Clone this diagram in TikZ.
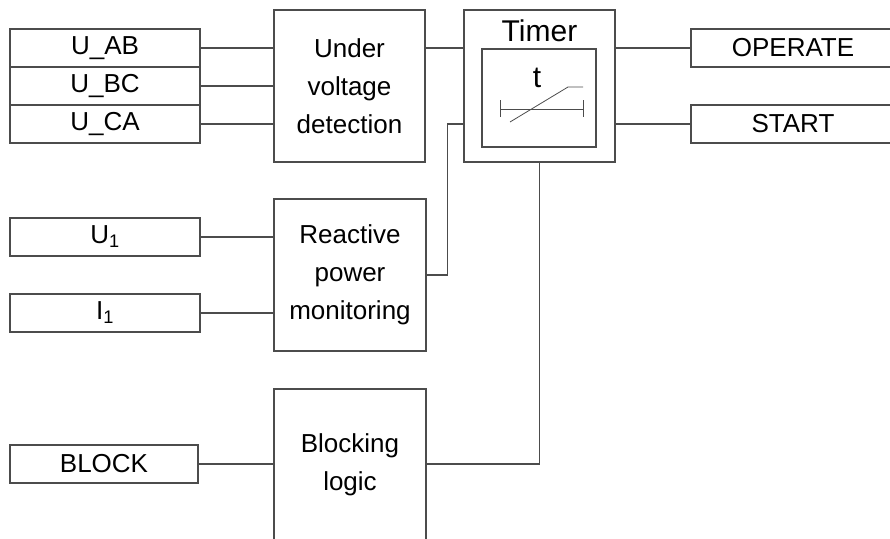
\documentclass[tikz,border=0pt]{standalone}
\usepackage{fontspec}
\setmainfont{Liberation Sans}
\usetikzlibrary{positioning,calc}

\begin{document}
\begin{tikzpicture}[x=1pt,y=-1pt,
    line width=1.1pt,draw=black!70,
    every node/.style={font=\fontsize{26}{38}\selectfont},
    sig/.style={draw,minimum width=190,minimum height=38,inner sep=0pt},
    outsig/.style={draw,minimum width=204,minimum height=38,inner sep=0pt},
    fblock/.style={draw,minimum width=152,minimum height=152,inner sep=0pt,align=center}]
  \useasboundingbox (0,0) rectangle (890,538);
  \clip (0,0) rectangle (890,538);
  % inputs
  \node[sig] (uab) at (105,48) {U\_AB};
  \node[sig] (ubc) at (105,86) {U\_BC};
  \node[sig] (uca) at (105,124) {U\_CA};
  \node[sig] (u1) at (105,237) {U\textsubscript{1}};
  \node[sig] (i1) at (105,313) {I\textsubscript{1}};
  \node[sig,minimum width=188] (block) at (104,464) {BLOCK};
  % function blocks
  \node[fblock,minimum width=151] (uvd) at (349.5,86) {Under\\voltage\\detection};
  \node[fblock] (rpm) at (350,275) {Reactive\\power\\monitoring};
  \node[fblock] (blog) at (350,465) {Blocking\\logic};
  \node[fblock,minimum width=151] (timer) at (539.5,86) {};
  \node[draw,minimum width=114,minimum height=98,inner sep=0pt] (tinner) at (539,98) {};
  \node[font=\fontsize{30}{34}\selectfont,below=6pt of timer.north] (tname) {Timer};
  \node[font=\fontsize{30}{34}\selectfont] (tlab) at (537,78) {t};
  \draw[line width=0.8pt] (500,109) -- (583,109);
  \draw[line width=0.8pt] (500,100) -- (500,117);
  \draw[line width=0.8pt] (583,100) -- (583,117);
  \draw[line width=0.8pt] (510,122) -- (568,87) -- (583,87);
  % outputs
  \node[outsig] (operate) at (793,48) {OPERATE};
  \node[outsig] (start) at (793,124) {START};
  % connectors
  \foreach \n in {uab,ubc,uca,u1,i1,block}
    \draw (\n.east) -- (\n.east -| uvd.west);
  \draw (uvd.east |- uab) -- (timer.west |- uab);
  \draw (rpm.east) -- ++(21,0) |- (timer.west |- uca);
  \draw (blog.east |- block) -| (timer.south);
  \draw (timer.east |- operate) -- (operate.west);
  \draw (timer.east |- start) -- (start.west);
\end{tikzpicture}
\end{document}
